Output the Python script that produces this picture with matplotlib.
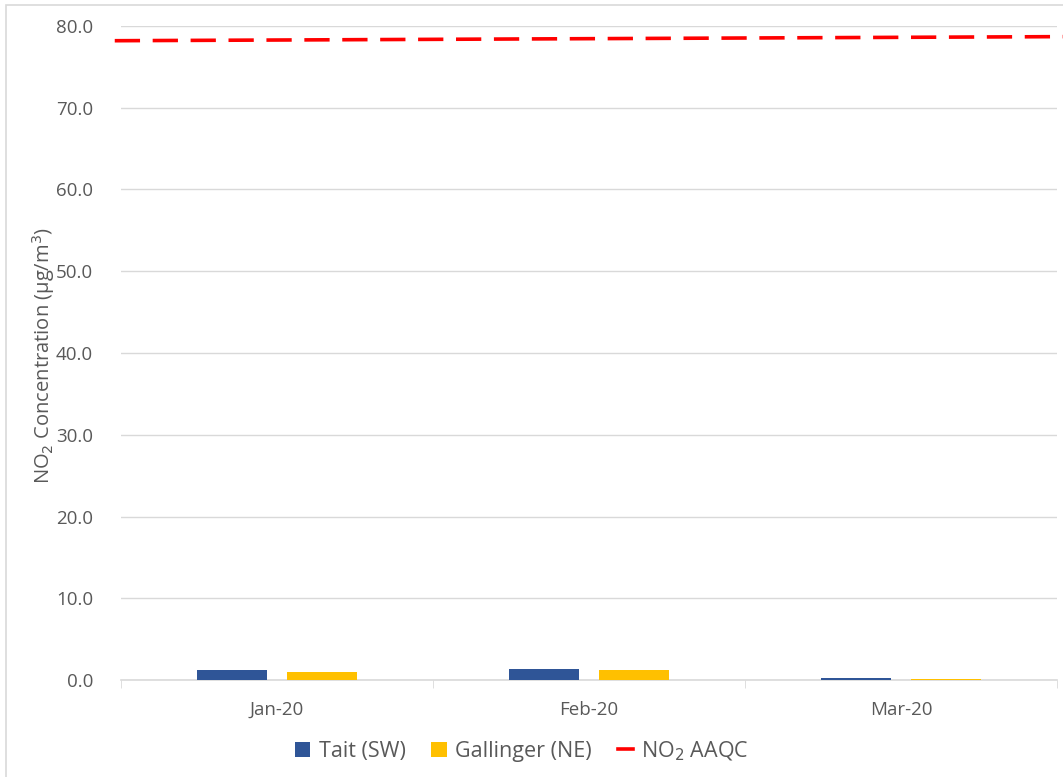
import matplotlib
matplotlib.use("Agg")
import matplotlib.pyplot as plt
import numpy as np
from matplotlib.patches import Rectangle, Patch
from matplotlib.lines import Line2D

categories = ["Jan-20", "Feb-20", "Mar-20"]
tait = [1.22, 1.38, 0.22]
gallinger = [0.98, 1.20, 0.18]
aaqc = [78.2, 78.7]
yticks = [0, 10, 20, 30, 40, 50, 60, 70, 80]

plt.rcParams['font.family'] = ['Open Sans', 'DejaVu Sans']
TXT = '#595959'

fig = plt.figure(figsize=(10.63, 7.77), dpi=100)
fig.patches.append(Rectangle((6/1063, -0.1), 1.2, 1 - 5/777 + 0.1, transform=fig.transFigure,
                             fill=False, edgecolor='#D9D9D9', linewidth=1.2))
ax = fig.add_axes([121/1063, 1 - 680/777, (1057 - 121)/1063, (680 - 26)/777])

x = np.arange(len(categories))
w = 0.224
off = 0.143
ax.bar(x - off, tait, w, color='#2F5597', zorder=3)
ax.bar(x + off, gallinger, w, color='#FFC000', zorder=3)

ax.plot([-0.52, 2.52], aaqc, color='#FF0000', linewidth=2.6, dashes=(7, 3.5), zorder=4, clip_on=False)

ax.set_xlim(-0.5, 2.5)
ax.set_ylim(0, 80)
ax.set_yticks(yticks)
ax.set_yticklabels([f"{v:.1f}" for v in yticks], fontsize=13.5, color=TXT)
ax.set_xticks(x)
ax.set_xticklabels(categories, fontsize=13.5, color=TXT)
ax.tick_params(axis='y', length=0, pad=20)
ax.tick_params(axis='x', length=0, pad=15)
ax.set_xticks([-0.5, 0.5, 1.5, 2.5], minor=True)
ax.tick_params(axis='x', which='minor', length=6, color='#D9D9D9', direction='out')
ax.grid(axis='y', color='#D9D9D9', linewidth=1, zorder=0)
for s in ['top', 'right', 'left']:
    ax.spines[s].set_visible(False)
ax.spines['bottom'].set_color('#D9D9D9')
ax.spines['bottom'].set_linewidth(1.2)

fig.text(44/1063, 1 - 356/777, "NO$_2$ Concentration (µg/m$^3$)", rotation=90,
         ha='center', va='center', fontsize=14.5, color=TXT)

handles = [Patch(facecolor='#2F5597', label='Tait (SW)'),
           Patch(facecolor='#FFC000', label='Gallinger (NE)'),
           Line2D([0], [0], color='#FF0000', linewidth=2.6, label='NO$_2$ AAQC')]
fig.legend(handles=handles, loc='center', bbox_to_anchor=(522/1063, 1 - 751/777), ncol=3,
           frameon=False, fontsize=15.5, labelcolor=TXT, handlelength=0.7, handleheight=0.7,
           handletextpad=0.4, columnspacing=1.2)

fig.savefig("out.png", dpi=100)
